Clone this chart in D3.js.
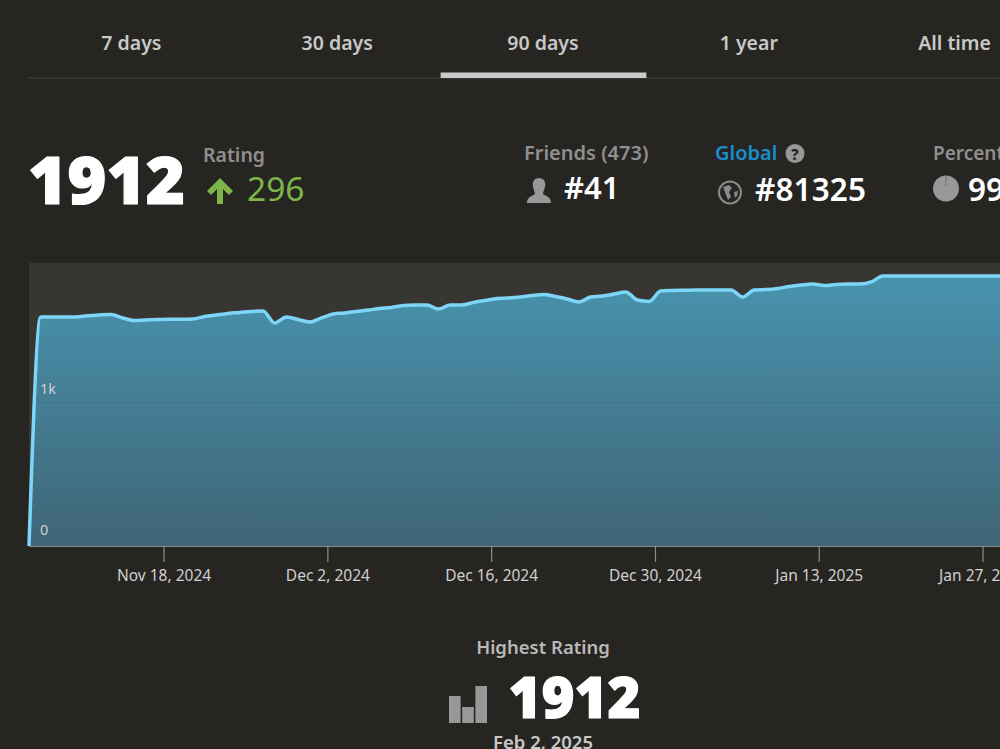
<!DOCTYPE html>
<html>
<head>
<meta charset="utf-8">
<script src="https://cdn.jsdelivr.net/npm/d3@7/dist/d3.min.js"></script>
<style>
  html, body { margin: 0; padding: 0; background: #272522; overflow: hidden; }
  svg { display: block; font-family: "Noto Sans", "Open Sans", sans-serif; }
</style>
</head>
<body>
<svg id="chart" width="1000" height="749"></svg>
<script>
const tabs = ["7 days", "30 days", "90 days", "1 year", "All time"];
const activeTab = "90 days";

// Daily rating over the 90 day window
const ratings = [
  0, 1622, 1622, 1622, 1622, 1630, 1636, 1640, 1615, 1597,
  1601, 1604, 1606, 1606, 1608, 1625, 1636, 1647, 1654, 1661,
  1664, 1579, 1622, 1604, 1586, 1615, 1643, 1650, 1661, 1671,
  1682, 1689, 1703, 1707, 1707, 1678, 1707, 1707, 1725, 1739,
  1753, 1756, 1763, 1774, 1781, 1767, 1749, 1728, 1763, 1770,
  1784, 1799, 1742, 1732, 1806, 1809, 1811, 1813, 1813, 1813,
  1813, 1763, 1813, 1816, 1824, 1838, 1848, 1855, 1845, 1852,
  1855, 1855, 1870, 1912, 1912, 1912, 1912, 1912, 1912, 1912,
  1912, 1912, 1912, 1912, 1912, 1912, 1912, 1912
];
const firstDay = "2024-11-06T12:00:00Z";
const xTickDates = ["2024-11-18", "2024-12-02", "2024-12-16", "2024-12-30", "2025-01-13", "2025-01-27"];
const yTicks = [0, 1000];

const C = {
  page: "#272522", plot: "#383633", rule: "#3d3b39", tabActive: "#c9c9c9", tab: "#c8c8c8",
  muted: "#8f8f8f", icon: "#989898", white: "#ffffff", green: "#7db548", blue: "#1a8dcb",
  line: "#7dd6f8", tick: "#8a8a88", axisText: "#cfcfcf"
};

const svg = d3.select("#chart");
const parseDay = d3.utcParse("%Y-%m-%d");
const start = new Date(firstDay);
const points = ratings.map((v, i) => ({ date: d3.utcDay.offset(start, i), value: v }));

const plot = { left: 29, right: 1046.9, top: 263, bottom: 546 };
const x = d3.scaleUtc().domain(d3.extent(points, d => d.date)).range([plot.left, plot.right]);
const y = d3.scaleLinear().domain([0, 2004]).range([plot.bottom, plot.top]);

/* ---- tab bar ---- */
const tabBand = d3.scaleBand().domain(tabs).range([29, 1058]);
svg.append("line").attr("x1", 29).attr("x2", 1000).attr("y1", 78).attr("y2", 78)
  .attr("stroke", C.rule).attr("stroke-width", 1.5);
svg.append("rect").attr("x", tabBand(activeTab)).attr("y", 72.5)
  .attr("width", tabBand.bandwidth()).attr("height", 5.5).attr("fill", C.tabActive);
svg.selectAll("text.tab").data(tabs).join("text").attr("class", "tab")
  .attr("x", d => tabBand(d) + tabBand.bandwidth() / 2 - 0.5)
  .attr("y", 49.5).attr("text-anchor", "middle")
  .attr("font-size", 19.5).attr("font-weight", 600).attr("fill", C.tab)
  .text(d => d);

/* ---- headline stats ---- */
function label(px, py, str, opts = {}) {
  return svg.append("text").attr("x", px).attr("y", py)
    .attr("font-size", opts.size || 19).attr("font-weight", opts.weight || 500)
    .attr("fill", opts.fill || C.muted).attr("text-anchor", opts.anchor || "start").text(str);
}
// Extra-heavy numerals: a matching outline thickens the boldest installed weight
function heavy(px, py, str, size, len) {
  return label(px, py, str, { size, weight: 900, fill: C.white })
    .attr("textLength", len).attr("lengthAdjust", "spacingAndGlyphs")
    .attr("stroke", C.white).attr("stroke-width", 1.2).attr("stroke-linejoin", "round");
}
heavy(28, 203.5, "1912", 66, 157);
label(203, 162, "Rating", { size: 19.5, weight: 600 });
svg.append("path").attr("d", "M220 178 L233 191 L229 195 L223 189 V204 H217 V189 L211 195 L207 191 Z").attr("fill", C.green);
label(247, 201, "296", { size: 33.5, weight: 400, fill: C.green });

label(524, 160, "Friends (473)", { size: 20, weight: 600 });
svg.append("path").attr("d", "M539 178 C544 178 546 182 545 187 C544 191 543 192 543 194 C546 196 551 197 551 203 H527 C527 197 532 196 535 194 C535 192 534 191 533 187 C532 182 534 178 539 178 Z").attr("fill", C.icon);
label(564, 199, "#41", { size: 31, weight: 600, fill: C.white });

label(715, 160, "Global", { size: 20, weight: 600, fill: C.blue });
svg.append("circle").attr("cx", 795).attr("cy", 153.5).attr("r", 9.5).attr("fill", C.icon);
label(795, 159.5, "?", { size: 15, weight: 800, fill: C.page, anchor: "middle" });
svg.append("circle").attr("cx", 730).attr("cy", 192.5).attr("r", 11).attr("fill", "none").attr("stroke", "#8a8a8a").attr("stroke-width", 2);
svg.append("path").attr("d", "M723 187 L729 185 L732 188 L729 192 L731 197 L728 200 L726 195 Z M734 192 L738 191 L737 196 L735 198 Z").attr("fill", "#8a8a8a");
label(755, 201, "#81325", { size: 31.5, weight: 600, fill: C.white }).attr("textLength", 111);

label(933, 160, "Percentile", { size: 19, weight: 600 });
svg.append("circle").attr("cx", 946).attr("cy", 188.5).attr("r", 13).attr("fill", C.icon);
svg.append("line").attr("x1", 946).attr("x2", 946).attr("y1", 176).attr("y2", 186).attr("stroke", "#6d6d6d").attr("stroke-width", 1);
label(968, 201, "99", { size: 31.5, weight: 600, fill: C.white });

/* ---- rating chart ---- */
const defs = svg.append("defs");
const grad = defs.append("linearGradient").attr("id", "areaFill")
  .attr("gradientUnits", "userSpaceOnUse").attr("x1", 0).attr("x2", 0)
  .attr("y1", y(1912)).attr("y2", y(0));
grad.append("stop").attr("offset", 0).attr("stop-color", "#4893ae");
grad.append("stop").attr("offset", 1).attr("stop-color", "#3f6576");

svg.append("rect").attr("x", plot.left).attr("y", plot.top)
  .attr("width", 1000 - plot.left).attr("height", plot.bottom - plot.top).attr("fill", C.plot);

const area = d3.area().x(d => x(d.date)).y0(y(0)).y1(d => y(d.value)).curve(d3.curveMonotoneX);
const line = d3.line().x(d => x(d.date)).y(d => y(d.value)).curve(d3.curveMonotoneX);

svg.append("path").datum(points).attr("d", area).attr("fill", "url(#areaFill)");

// Value gridlines with labels sitting just above each line, inside the plot
const yAxis = d3.axisRight(y).tickValues(yTicks)
  .tickSize(1000 - plot.left)
  .tickFormat(d => d === 0 ? "0" : d3.format("~s")(d));
const yG = svg.append("g").attr("transform", `translate(${plot.left},0)`).call(yAxis)
  .attr("font-family", null);
yG.select(".domain").remove();
yG.selectAll("line").attr("stroke", "#ffffff").attr("stroke-opacity", 0.08);
yG.selectAll("text").attr("x", 11).attr("dy", "-0.8em").attr("text-anchor", "start")
  .attr("font-size", 14.5).attr("fill", C.axisText);

svg.append("path").datum(points).attr("d", line).attr("fill", "none")
  .attr("stroke", C.line).attr("stroke-width", 3.5).attr("stroke-linejoin", "round");

const xAxis = d3.axisBottom(x).tickValues(xTickDates.map(parseDay))
  .tickSize(16).tickSizeOuter(0).tickPadding(8).tickFormat(d3.utcFormat("%b %-d, %Y"));
const xG = svg.append("g").attr("transform", `translate(0,${plot.bottom})`).call(xAxis)
  .attr("font-family", null);
xG.select(".domain").attr("stroke", C.tick).attr("stroke-width", 1.2);
xG.selectAll("line").attr("stroke", C.tick).attr("stroke-width", 1.2);
xG.selectAll("text").attr("font-size", 15.5).attr("fill", C.axisText);

/* ---- highest rating block ---- */
label(543, 654, "Highest Rating", { size: 18.5, weight: 600, fill: "#b9b9b9", anchor: "middle" });
const barHeights = [27, 16, 37];
const barX = d3.scaleBand().domain(d3.range(barHeights.length)).range([449, 487]).paddingInner(0.12);
svg.selectAll("rect.mini").data(barHeights).join("rect").attr("class", "mini")
  .attr("x", (d, i) => barX(i)).attr("width", barX.bandwidth())
  .attr("y", d => 723 - d).attr("height", d => d).attr("fill", C.icon);
heavy(508.5, 717.5, "1912", 56, 132);
label(543, 749, "Feb 2, 2025", { size: 18.5, weight: 600, fill: "#c8c8c8", anchor: "middle" });
</script>
</body>
</html>
